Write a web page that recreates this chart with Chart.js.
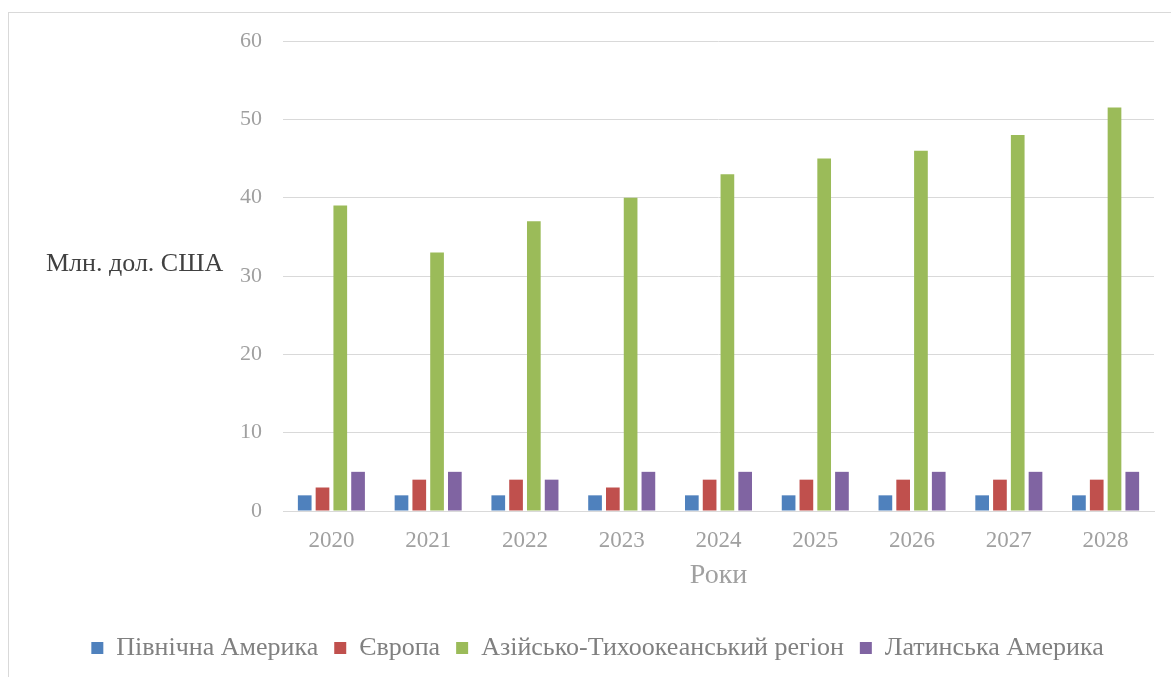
<!DOCTYPE html>
<html>
<head>
<meta charset="utf-8">
<script src="https://cdn.jsdelivr.net/npm/chart.js@4"></script>
<style>
  html, body { margin: 0; padding: 0; background: #fff; }
  #wrap { position: relative; width: 1171px; height: 677px; }
  #frame { position: absolute; left: 8px; top: 12px; width: 1180px; height: 700px; border: 1px solid #d9d9d9; box-sizing: border-box; }
  canvas { position: absolute; left: 0; top: 0; }
</style>
</head>
<body>
<div id="wrap">
  <div id="frame"></div>
  <canvas id="c" width="1171" height="677"></canvas>
</div>
<script>
const categories = ["2020", "2021", "2022", "2023", "2024", "2025", "2026", "2027", "2028"];
const seriesNames = ["Північна Америка", "Європа", "Азійсько-Тихоокеанський регіон", "Латинська Америка"];
const northAmerica = [2, 2, 2, 2, 2, 2, 2, 2, 2];
const europe = [3, 4, 4, 3, 4, 4, 4, 4, 4];
const asiaPacific = [39, 33, 37, 40, 43, 45, 46, 48, 51.5];
const latinAmerica = [5, 5, 4, 5, 5, 5, 5, 5, 5];
const seriesColors = ["#4f81bd", "#c0504d", "#9bbb59", "#8064a2"];
const yTitle = "Млн. дол. США";
const xTitle = "Роки";

const serif = "'Liberation Serif', 'DejaVu Serif', serif";

const yTitlePlugin = {
  id: 'yTitle',
  afterDraw(chart) {
    const ctx = chart.ctx;
    ctx.save();
    ctx.font = "26px " + serif;
    ctx.fillStyle = "#404040";
    ctx.textAlign = "left";
    ctx.textBaseline = "middle";
    ctx.fillText(yTitle, 46, 264);
    ctx.restore();
  }
};

const allSeries = [northAmerica, europe, asiaPacific, latinAmerica];
new Chart(document.getElementById('c'), {
  type: 'bar',
  data: {
    labels: categories,
    datasets: allSeries.map((d, i) => ({
      label: seriesNames[i],
      data: d,
      backgroundColor: seriesColors[i],
      borderWidth: 0,
      categoryPercentage: 0.735,
      barPercentage: 0.77
    }))
  },
  options: {
    responsive: false,
    animation: false,
    devicePixelRatio: 1,
    layout: { padding: { top: 41, right: 17, left: 41, bottom: 6 } },
    plugins: {
      tooltip: { enabled: false },
      legend: {
        position: 'bottom',
        labels: {
          boxWidth: 12,
          boxHeight: 12,
          padding: 16,
          color: "#808080",
          font: { family: serif, size: 26 }
        }
      }
    },
    scales: {
      x: {
        grid: { display: false, drawTicks: false },
        border: { display: true, color: "#d9d9d9", width: 1 },
        ticks: { color: "#a0a0a0", font: { family: serif, size: 23 }, padding: 16 },
        title: { display: true, text: xTitle, color: "#a0a0a0", font: { family: serif, size: 28 }, padding: { top: 4, bottom: 27 } },
        afterFit(scale) { scale.height = 108; }
      },
      y: {
        min: 0, max: 60,
        ticks: { stepSize: 10, color: "#a0a0a0", font: { family: serif, size: 22 }, padding: 21 },
        grid: { color: "#d9d9d9", drawTicks: false },
        border: { display: false },
        afterFit(scale) { scale.width = 242; }
      }
    }
  },
  plugins: [yTitlePlugin]
});
</script>
</body>
</html>
